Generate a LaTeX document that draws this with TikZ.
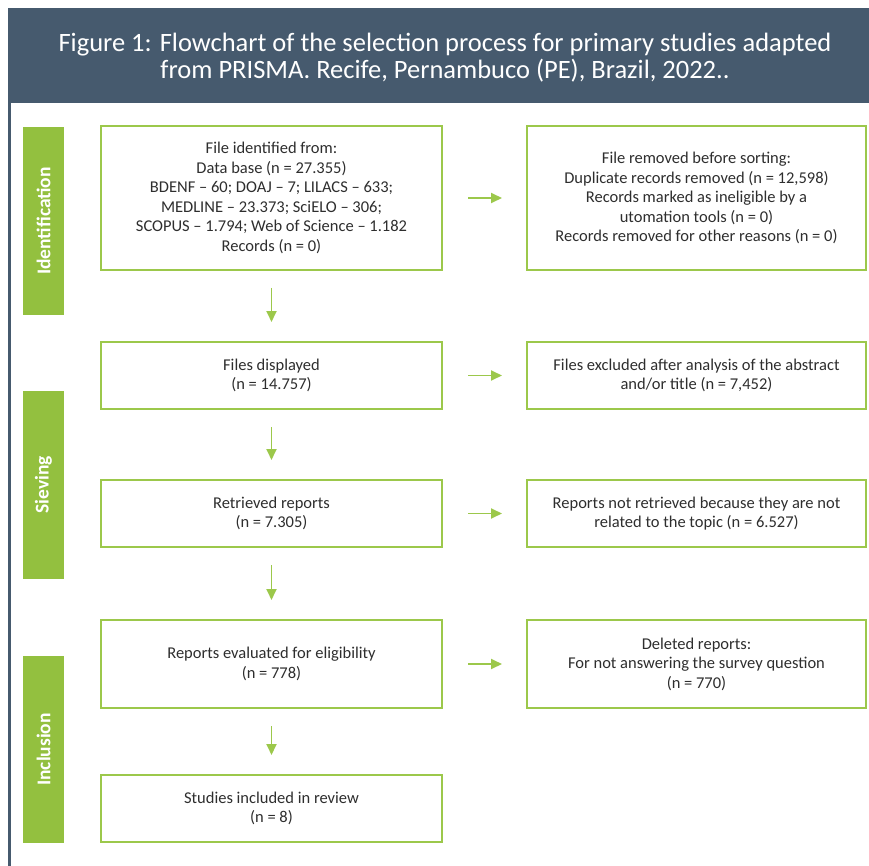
\documentclass[tikz,border=0pt]{standalone}
\usepackage{fontspec}
\setmainfont{Carlito}
\usetikzlibrary{arrows.meta}
\definecolor{hdr}{HTML}{465A6E}
\definecolor{grn}{HTML}{9CC84B}
\definecolor{stg}{HTML}{93C03F}
\definecolor{txt}{HTML}{2E2E2E}
\tikzset{
  box/.style={draw=grn, line width=2pt, fill=white, text=txt, align=center,
    font=\fontsize{16.5}{19.5}\selectfont, inner sep=0pt},
  stage/.style={fill=stg, text=white, font=\bfseries\fontsize{19.5}{22}\selectfont},
  arr/.style={draw=grn, line width=1.8pt, -{Triangle[length=11pt,width=10pt]}}
}
\begin{document}
\begin{tikzpicture}[x=1pt,y=-1pt]
\useasboundingbox (0,0) rectangle (869,866);
\fill[white] (0,0) rectangle (869,866);
% header
\fill[hdr] (8,8) rectangle (869,103);
\node[text=white, align=center, font=\fontsize{26.5}{27}\selectfont] (title) at (445,58)
  {Figure 1: Flowchart of the selection process for primary studies adapted\\from PRISMA. Recife, Pernambuco (PE), Brazil, 2022..};
\fill[hdr] (8,103) rectangle (11,866);
% stages
\path[stage] (23,127) rectangle (64,315);
\node[stage, rotate=90] (s1) at (43.5,221) {Identification};
\path[stage] (23,391) rectangle (64,579);
\node[stage, rotate=90] (s2) at (43.5,485) {Sieving};
\path[stage] (23,656) rectangle (64,843);
\node[stage, rotate=90] (s3) at (43.5,749.5) {Inclusion};
% left boxes
\node[box, minimum width=341pt, minimum height=144pt] (b1) at (271.5,198)
  {File identified from:\\Data base (n = 27.355)\\BDENF – 60; DOAJ – 7; LILACS – 633;\\MEDLINE – 23.373; SciELO – 306;\\SCOPUS – 1.794; Web of Science – 1.182\\Records (n = 0)};
\node[box, minimum width=341pt, minimum height=67pt] (b2) at (271.5,375.5)
  {Files displayed\\(n = 14.757)};
\node[box, minimum width=341pt, minimum height=67pt] (b3) at (271.5,513.5)
  {Retrieved reports\\(n = 7.305)};
\node[box, minimum width=341pt, minimum height=88pt] (b4) at (271.5,664)
  {Reports evaluated for eligibility\\(n = 778)};
\node[box, minimum width=341pt, minimum height=67pt] (b5) at (271.5,808.5)
  {Studies included in review\\(n = 8)};
% right boxes
\node[box, minimum width=339pt, minimum height=144pt] (r1) at (696.5,198)
  {File removed before sorting:\\Duplicate records removed (n = 12,598)\\Records marked as ineligible by a\\utomation tools (n = 0)\\Records removed for other reasons (n = 0)};
\node[box, minimum width=339pt, minimum height=67pt] (r2) at (696.5,375.5)
  {Files excluded after analysis of the abstract\\and/or title (n = 7,452)};
\node[box, minimum width=339pt, minimum height=67pt] (r3) at (696.5,513.5)
  {Reports not retrieved because they are not\\related to the topic (n = 6.527)};
\node[box, minimum width=339pt, minimum height=88pt] (r4) at (696.5,664)
  {Deleted reports:\\For not answering the survey question\\(n = 770)};
% arrows
\foreach \a/\b in {b1/r1,b2/r2,b3/r3,b4/r4}{
  \draw[arr] ([xshift=25pt]\a.east) -- ([xshift=-24pt]\b.west);
}
\foreach \a/\b in {b1/b2,b2/b3,b3/b4,b4/b5}{
  \draw[arr] ([yshift=-17pt]\a.south) -- ([yshift=19pt]\b.north);
}
\end{tikzpicture}
\end{document}
